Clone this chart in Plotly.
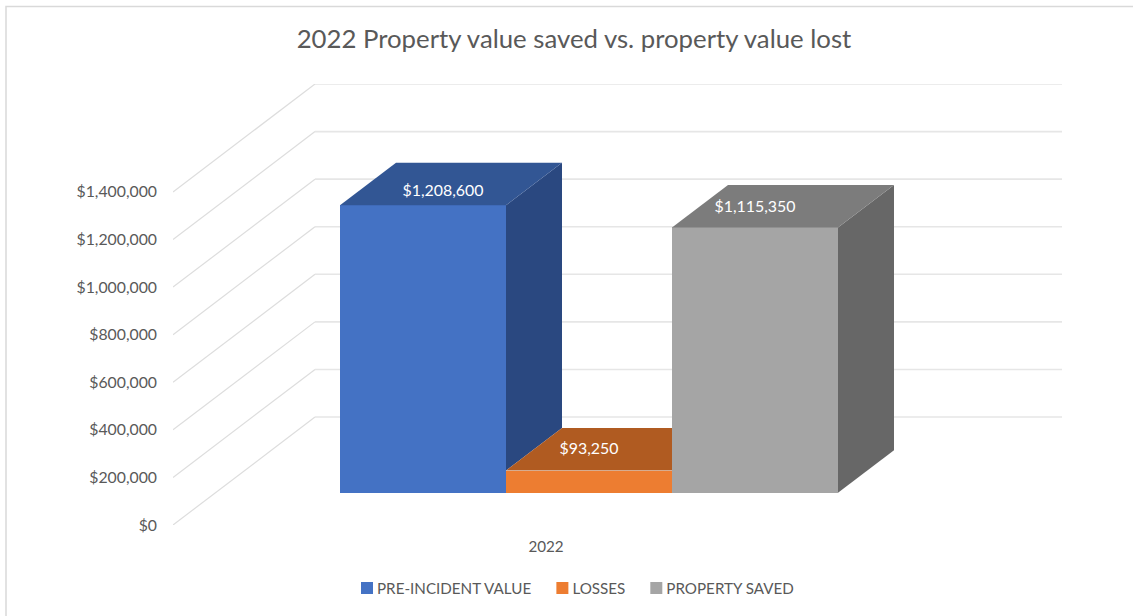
import plotly.graph_objects as go

# --- data ---
title = "2022 Property value saved vs. property value lost"
category = "2022"
series_names = ["PRE-INCIDENT VALUE", "LOSSES", "PROPERTY SAVED"]
series_values = [1208600, 93250, 1115350]
value_labels = ["$1,208,600", "$93,250", "$1,115,350"]
axis_ticks = [0, 200000, 400000, 600000, 800000, 1000000, 1200000, 1400000]

# --- styles ---
front_colors = ["#4472C4", "#ED7D31", "#A5A5A5"]
top_colors = ["#325694", "#B05B21", "#7C7C7C"]
side_colors = ["#2A4880", "#9E5220", "#676767"]
text_grey = "#595959"
font_family = "Lato"

# --- oblique projection geometry (screen pixels for one unit) ---
W, H = 1133, 616
plot_left, plot_right, plot_top, plot_bottom = 173, 1062, 84, 525
px_per_bar = 166.0
px_per_value = 47.6 / 200000
first_bar_px = 423.0

wall_dx = 142 / px_per_bar
wall_dv = 108 / px_per_value
floor_v = 32.3 / px_per_value      # bars' front-bottom edge above front $0
bar_dx = 56 / px_per_bar
bar_dv = 42.5 / px_per_value

x_min = (plot_left - first_bar_px) / px_per_bar
x_max = (plot_right - first_bar_px) / px_per_bar
y_max = max(axis_ticks) + wall_dv

label_dx_px = [20, 0, 0]
label_dy_px = [13.5, 21, 19.5]

fig = go.Figure()

# front faces
for i, (name, v) in enumerate(zip(series_names, series_values)):
    fig.add_trace(go.Bar(
        x=[i], y=[v], base=[floor_v], width=[1.0], name=name,
        marker=dict(color=front_colors[i], line=dict(width=0)),
        hovertemplate=f"{name}: {value_labels[i]}<extra></extra>",
    ))

# side + top faces, clipped where a neighbouring bar hides them
n = len(series_values)
for i, v in enumerate(series_values):
    left, right = i - 0.5, i + 0.5
    y0 = floor_v + v
    next_v = series_values[i + 1] if i + 1 < n else None
    # side face: visible only above the next bar's top
    if next_v is None or next_v < v:
        low = floor_v + (next_v if next_v is not None else 0)
        fig.add_trace(go.Scatter(
            x=[right, right + bar_dx, right + bar_dx, right, right],
            y=[y0, y0 + bar_dv, low + bar_dv, low, y0],
            mode="lines", fill="toself", fillcolor=side_colors[i],
            line=dict(width=0), showlegend=False, hoverinfo="skip",
        ))
    # top face: the next, taller bar's front cuts it off
    if next_v is not None and next_v > v:
        xs = [left, right, right, left + bar_dx, left]
        ys = [y0, y0, y0 + bar_dv, y0 + bar_dv, y0]
    else:
        xs = [left, right, right + bar_dx, left + bar_dx, left]
        ys = [y0, y0, y0 + bar_dv, y0 + bar_dv, y0]
    fig.add_trace(go.Scatter(
        x=xs, y=ys, mode="lines", fill="toself", fillcolor=top_colors[i],
        line=dict(width=0), showlegend=False, hoverinfo="skip",
    ))

# data labels
fig.add_trace(go.Scatter(
    x=[i + label_dx_px[i] / px_per_bar for i in range(n)],
    y=[floor_v + v + label_dy_px[i] / px_per_value for i, v in enumerate(series_values)],
    mode="text", text=value_labels, textposition="middle center",
    textfont=dict(family=font_family, size=15.9, color="white"),
    showlegend=False, hoverinfo="skip",
))

# gridlines: side wall + back wall, below all marks
shapes = []
for t in axis_ticks:
    shapes.append(dict(type="line", layer="below", xref="x", yref="y",
                       x0=x_min, y0=t, x1=x_min + wall_dx, y1=t + wall_dv,
                       line=dict(color="#DDDDDD", width=1.2)))
    shapes.append(dict(type="line", layer="below", xref="x", yref="y",
                       x0=x_min + wall_dx, y0=t + wall_dv, x1=x_max, y1=t + wall_dv,
                       line=dict(color="#E6E6E6", width=1.6)))

# outer chart frame (left + top edges)
plot_w = plot_right - plot_left
plot_h = plot_bottom - plot_top
fx = (6 - plot_left) / plot_w
fy = (plot_bottom - 6.5) / plot_h
fx1 = (W - plot_left) / plot_w
fy0 = (plot_bottom - H) / plot_h
shapes.append(dict(type="path", xref="paper", yref="paper", layer="below",
                   path=f"M{fx},{fy0} L{fx},{fy} L{fx1},{fy}",
                   line=dict(color="#D9D9D9", width=1.5)))

fig.update_layout(
    width=W, height=H, autosize=False,
    margin=dict(l=plot_left, r=W - plot_right, t=plot_top, b=H - plot_bottom, pad=0),
    paper_bgcolor="white", plot_bgcolor="white",
    barmode="overlay", bargap=0,
    font=dict(family=font_family, color=text_grey, size=15),
    title=dict(text=title, x=574 / W, xanchor="center", y=1 - 39 / H, yanchor="middle",
               font=dict(family=font_family, size=25.75, color=text_grey)),
    xaxis=dict(range=[x_min, x_max], showgrid=False, zeroline=False, showline=False,
               ticks="", tickmode="array",
               tickvals=[(546 - first_bar_px) / px_per_bar], ticktext=[category],
               ticklabelstandoff=11, tickfont=dict(size=15.2, color=text_grey),
               fixedrange=True),
    yaxis=dict(range=[0, y_max], showgrid=False, zeroline=False, showline=False,
               ticks="", tickmode="array", tickvals=axis_ticks,
               tickformat="$,.0f", ticklabelstandoff=15,
               tickfont=dict(size=15.8, color=text_grey), fixedrange=True),
    legend=dict(orientation="h", x=(337 - plot_left) / plot_w, xanchor="left",
                y=(plot_bottom - 588) / plot_h, yanchor="middle",
                bgcolor="rgba(0,0,0,0)", font=dict(size=15.2, color=text_grey),
                traceorder="normal"),
    shapes=shapes,
    showlegend=True,
)

# Pull each legend swatch up to its text and tighten the entry spacing, as in the reference.
post = """
document.body.style.margin='0';
document.querySelectorAll('.legend .traces').forEach(function(t,i){
  var m=/translate\\(([-\\d.]+)[ ,]+([-\\d.]+)\\)/.exec(t.getAttribute('transform')||'');
  if(m){t.setAttribute('transform','translate('+(parseFloat(m[1])-4*i)+','+m[2]+')');}
  var s=t.querySelector('.legendsymbols');
  if(s){s.setAttribute('transform','translate(10,0)');}
});
"""
fig.write_html("out.html", config={"displayModeBar": False}, post_script=post)
